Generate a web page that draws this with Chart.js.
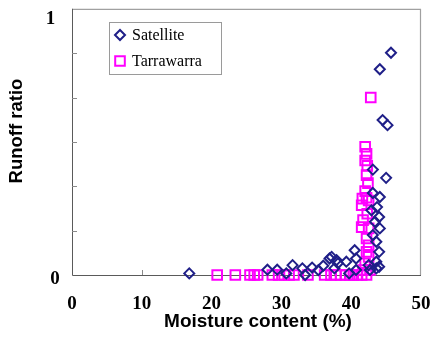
<!DOCTYPE html>
<html>
<head>
<meta charset="utf-8">
<script src="https://cdn.jsdelivr.net/npm/chart.js@4/dist/chart.umd.min.js"></script>
<style>
  html, body { margin: 0; padding: 0; background: #fff; }
  canvas { display: block; }
</style>
</head>
<body>
<canvas id="lienzo" width="432" height="337"></canvas>
<script>
"use strict";

// Datos (humedad %, coeficiente de escorrentia)
const satX = [16.8, 28.0, 29.4, 30.7, 31.6, 33.0, 33.4, 34.4, 35.3, 36.0, 36.9, 37.2, 37.6, 38.1, 37.9,
  39.3, 39.7, 40.5, 40.7, 40.7, 42.5, 42.7, 43.6, 44.0, 43.6, 44.0, 43.6, 43.1, 44.1, 43.4, 44.0,
  43.7, 42.9, 44.1, 43.1, 45.0, 43.1, 44.5, 45.2, 44.1, 45.7];
const satY = [0.006, 0.02, 0.02, 0.006, 0.037, 0.025, 0.0, 0.028, 0.018, 0.035, 0.062, 0.068, 0.025, 0.044, 0.056,
  0.05, 0.006, 0.093, 0.062, 0.019, 0.037, 0.019, 0.025, 0.031, 0.05, 0.087, 0.125, 0.15, 0.175, 0.2, 0.218,
  0.255, 0.243, 0.293, 0.308, 0.365, 0.396, 0.582, 0.563, 0.773, 0.835];

const tarX = [20.8, 23.4, 25.5, 26.1, 26.6, 28.7, 29.6, 30.4, 31.1, 31.8, 33.8, 36.2, 37.1, 37.8, 38.5,
  39.2, 39.8, 40.3, 40.9, 41.5, 42.2,
  41.7, 42.7, 42.0, 42.5, 42.2, 42.5, 42.2, 41.5, 42.5, 41.7, 42.3, 41.5, 42.5, 41.6, 42.2, 42.0,
  42.4, 42.2, 42.3, 42.0, 42.2, 42.0, 42.8];
const tarY = [0, 0, 0, 0, 0, 0, 0, 0, 0, 0, 0, 0, 0, 0, 0,
  0, 0, 0, 0, 0, 0,
  0.019, 0.019, 0.044, 0.068, 0.087, 0.112, 0.137, 0.18, 0.175, 0.206, 0.23, 0.262, 0.28, 0.287, 0.29, 0.315,
  0.345, 0.375, 0.41, 0.43, 0.455, 0.482, 0.667];

const xTicks = [0, 10, 20, 30, 40, 50];
const yTicks = [0, 1 / 6, 2 / 6, 3 / 6, 4 / 6, 5 / 6, 1];
const yTickLabels = ["0", "", "", "", "", "", "1"];
const seriesNames = ["Satellite", "Tarrawarra"];

const colorSat = "#1f1f88";
const colorTar = "#ff00ff";

const toPoints = (xs, ys) => xs.map((x, i) => ({ x: x, y: ys[i] }));

const serif = "'Liberation Serif', 'Times New Roman', serif";
const sans = "'Liberation Sans', Arial, sans-serif";

/* ── Marco, marcas, etiquetas, titulos y leyenda ───────────── */
const decorado = {
  id: "decorado",
  beforeDraw(chart) {
    const ctx = chart.ctx;
    ctx.save();
    ctx.fillStyle = "#fff";
    ctx.fillRect(0, 0, chart.width, chart.height);
    ctx.restore();
  },
  beforeDatasetsDraw(chart) {
    const { ctx, chartArea: a, scales } = chart;
    ctx.save();
    // marco superior y derecho
    ctx.strokeStyle = "#a0a0a0";
    ctx.lineWidth = 1.2;
    ctx.beginPath();
    ctx.moveTo(a.left, a.top + 0.5);
    ctx.lineTo(a.right - 0.5, a.top + 0.5);
    ctx.lineTo(a.right - 0.5, a.bottom);
    ctx.stroke();
    // ejes
    ctx.strokeStyle = "#5a5a5a";
    ctx.lineWidth = 1;
    ctx.beginPath();
    ctx.moveTo(a.left + 0.5, a.top);
    ctx.lineTo(a.left + 0.5, a.bottom + 0.5);
    ctx.lineTo(a.right, a.bottom + 0.5);
    ctx.stroke();
    // marcas hacia dentro
    ctx.strokeStyle = "#8a8a8a";
    ctx.beginPath();
    yTicks.slice(1, -1).forEach((v) => {
      const y = Math.round(scales.y.getPixelForValue(v)) + 0.5;
      ctx.moveTo(a.left, y);
      ctx.lineTo(a.left + 5, y);
    });
    xTicks.slice(1, -1).forEach((v) => {
      const x = Math.round(scales.x.getPixelForValue(v)) + 0.5;
      ctx.moveTo(x, a.bottom);
      ctx.lineTo(x, a.bottom - 5);
    });
    ctx.stroke();

    // etiquetas de las marcas
    ctx.fillStyle = "#000";
    ctx.font = "bold 19px " + serif;
    ctx.textAlign = "center";
    ctx.textBaseline = "middle";
    xTicks.forEach((v) => {
      ctx.fillText(String(v), scales.x.getPixelForValue(v), a.bottom + 29);
    });
    yTicks.forEach((v, i) => {
      if (!yTickLabels[i]) return;
      const y = scales.y.getPixelForValue(v);
      const x = i === 0 ? 55 : 50.5;
      ctx.fillText(yTickLabels[i], x, i === 0 ? y + 4 : y + 10);
    });
    ctx.restore();
  },
  afterDraw(chart) {
    const ctx = chart.ctx;
    ctx.save();
    // titulos de ejes
    ctx.fillStyle = "#000";
    ctx.textAlign = "center";
    ctx.textBaseline = "middle";
    ctx.font = "bold 19px " + sans;
    ctx.fillText("Moisture content (%)", 258, 322);
    ctx.font = "bold 18.5px " + sans;
    ctx.translate(17, 131);
    ctx.rotate(-Math.PI / 2);
    ctx.fillText("Runoff ratio", 0, 0);
    ctx.restore();

    // leyenda
    ctx.save();
    ctx.fillStyle = "#fff";
    ctx.fillRect(109.5, 22.5, 112, 52);
    ctx.strokeStyle = "#9a9a9a";
    ctx.lineWidth = 1;
    ctx.strokeRect(109.5, 22.5, 112, 52);
    const marcas = [
      { style: "rectRot", radius: 5, color: colorSat, y: 35 },
      { style: "rect", radius: 6.8, color: colorTar, y: 61 },
    ];
    ctx.font = "16px " + serif;
    ctx.textAlign = "left";
    ctx.textBaseline = "middle";
    marcas.forEach((m, i) => {
      ctx.strokeStyle = m.color;
      ctx.fillStyle = "rgba(0,0,0,0)";
      ctx.lineWidth = 2;
      Chart.helpers.drawPoint(ctx, { pointStyle: m.style, radius: m.radius, borderWidth: 2 }, 120, m.y);
      ctx.fillStyle = "#000";
      ctx.fillText(seriesNames[i], 132, m.y + 1);
    });
    ctx.restore();
  },
};

const grafico = new Chart(document.getElementById("lienzo").getContext("2d"), {
  type: "scatter",
  data: {
    datasets: [
      {
        label: seriesNames[0],
        data: toPoints(satX, satY),
        pointStyle: "rectRot",
        pointRadius: 5,
        pointBorderWidth: 2,
        borderColor: colorSat,
        backgroundColor: "rgba(0,0,0,0)",
        clip: false,
      },
      {
        label: seriesNames[1],
        data: toPoints(tarX, tarY),
        pointStyle: "rect",
        pointRadius: 6.8,
        pointBorderWidth: 2,
        borderColor: colorTar,
        backgroundColor: "rgba(0,0,0,0)",
        clip: false,
      },
    ],
  },
  options: {
    responsive: false,
    animation: false,
    layout: { padding: { top: 6, right: 11, left: 0, bottom: 0 } },
    plugins: {
      legend: { display: false },
      tooltip: { enabled: false },
    },
    scales: {
      x: {
        type: "linear",
        min: 0,
        max: 50,
        afterBuildTicks: (s) => { s.ticks = xTicks.map((v) => ({ value: v })); },
        afterFit: (s) => { s.height = 62; },
        grid: { display: false, drawTicks: false },
        border: { display: false },
        ticks: { display: false },
      },
      y: {
        type: "linear",
        min: 0,
        max: 1,
        afterBuildTicks: (s) => { s.ticks = yTicks.map((v) => ({ value: v })); },
        afterFit: (s) => { s.width = 72; },
        grid: { display: false, drawTicks: false },
        border: { display: false },
        ticks: { display: false },
      },
    },
  },
  plugins: [decorado],
});
</script>
</body>
</html>
